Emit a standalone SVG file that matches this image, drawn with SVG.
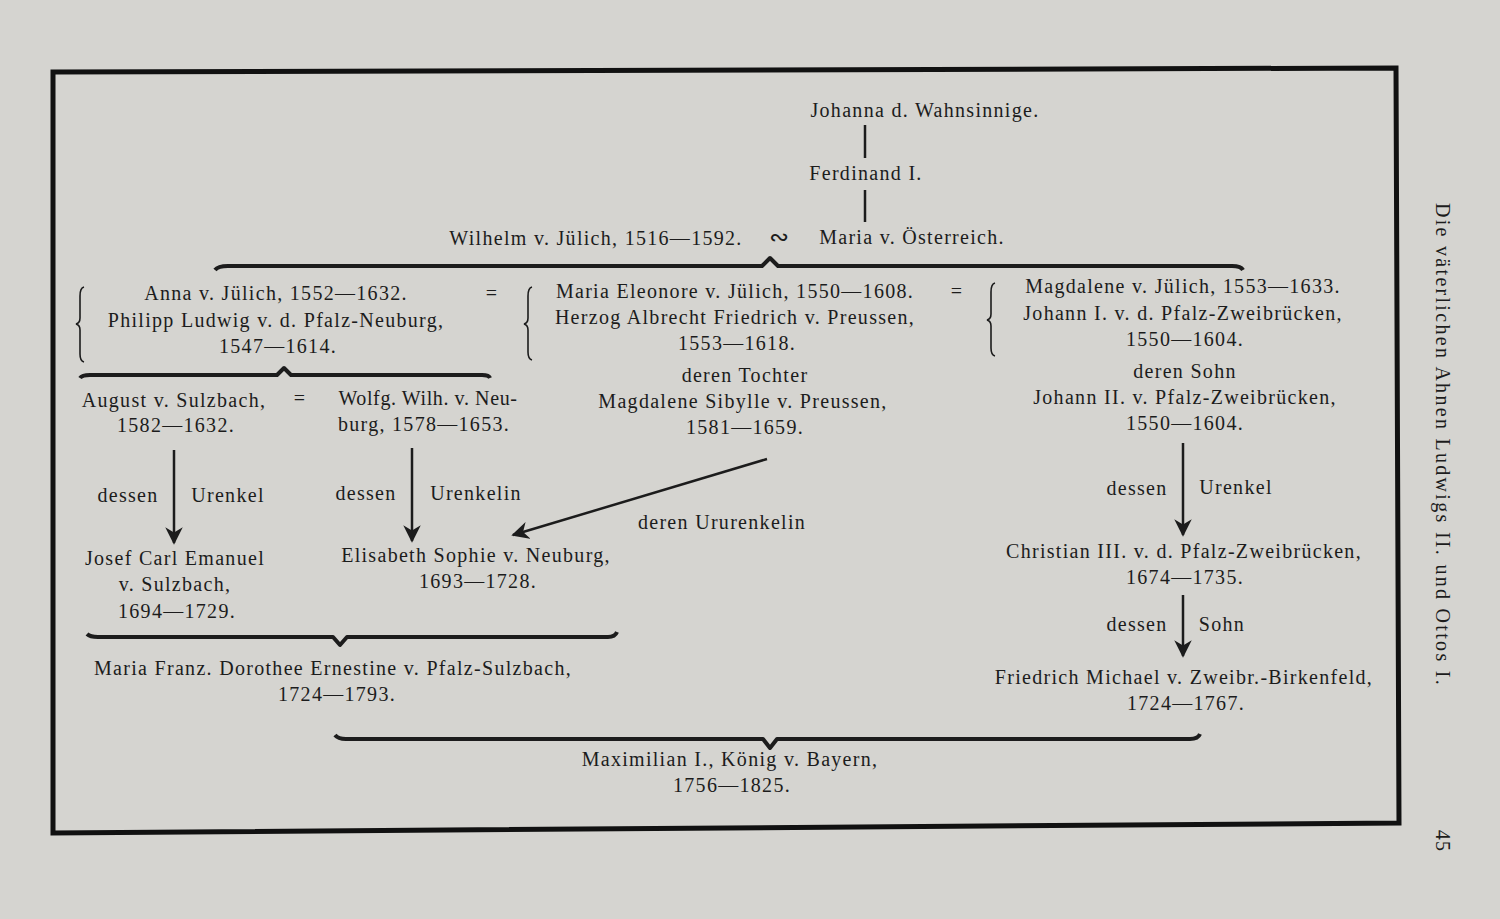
<svg xmlns="http://www.w3.org/2000/svg" width="1500" height="919" viewBox="0 0 1500 919">
<defs>
<style>
text{font-family:"Liberation Serif","DejaVu Serif",serif;font-size:20px;fill:#1c1c1c;text-anchor:middle;letter-spacing:1.3px}
.l{stroke:#1c1c1c;stroke-width:2.5;fill:none}
.b{stroke:#1c1c1c;stroke-width:4;fill:none;stroke-linejoin:round}
.k{stroke:#1c1c1c;stroke-width:1.6;fill:none}
</style>
<marker id="a" viewBox="0 0 10 10" refX="9" refY="5" markerWidth="7" markerHeight="7" orient="auto-start-reverse"><path d="M0,0 L10,5 L0,10 L3,5 z" fill="#1c1c1c"/></marker>
</defs>
<rect width="1500" height="919" fill="#d5d4d0"/>
<polygon points="53,72 1396,68 1399,823 53,833" fill="none" stroke="#111" stroke-width="5"/>
<g id="connectors">
<line class="l" x1="865" y1="125" x2="865" y2="158"/>
<line class="l" x1="865" y1="190" x2="865" y2="222"/>
<path class="b" d="M215,270 Q218,266 228,266 L762,266 L770,258 L778,266 L1232,266 Q1241,266 1243,270"/>
<path class="k" d="M84,287 Q80,288 80,296 L80,318 Q80,323 76,324 Q80,325 80,330 L80,354 Q80,361 84,362"/>
<path class="k" d="M532,287 Q528,288 528,296 L528,318 Q528,323 524,324 Q528,325 528,330 L528,352 Q528,359 532,360"/>
<path class="k" d="M995,283 Q991,284 991,292 L991,314 Q991,319 987,320 Q991,321 991,326 L991,348 Q991,355 995,356"/>
<path class="b" d="M80,378 Q82,375 90,375 L277,375 L284,368 L291,375 L482,375 Q489,375 490,378"/>
<line class="l" x1="174" y1="450" x2="174" y2="543" marker-end="url(#a)"/>
<line class="l" x1="412" y1="448" x2="412" y2="541" marker-end="url(#a)"/>
<line class="l" x1="767" y1="459" x2="513" y2="535" marker-end="url(#a)"/>
<line class="l" x1="1183" y1="443" x2="1183" y2="535" marker-end="url(#a)"/>
<line class="l" x1="1183" y1="595" x2="1183" y2="656" marker-end="url(#a)"/>
<path class="b" d="M87,634 Q90,637 98,637 L333,637 L340,645 L347,637 L608,637 Q615,637 617,632"/>
<path class="b" d="M335,735 Q338,739 346,739 L763,739 L770,748 L777,739 L1190,739 Q1198,739 1200,734"/>
</g>
<g id="n1"><text x="925" y="117">Johanna d. Wahnsinnige.</text></g>
<g id="n2"><text x="866" y="180">Ferdinand I.</text></g>
<g id="n3"><text x="596" y="245">Wilhelm v. Jülich, 1516—1592.</text><text x="780" y="245" style="font-size:24px">∾</text><text x="912" y="244">Maria v. Österreich.</text></g>
<g id="n4"><text x="276" y="300">Anna v. Jülich, 1552—1632.</text><text x="492" y="300">=</text><text x="276" y="327">Philipp Ludwig v. d. Pfalz-Neuburg,</text><text x="278" y="353">1547—1614.</text></g>
<g id="n5"><text x="735" y="298">Maria Eleonore v. Jülich, 1550—1608.</text><text x="957" y="298">=</text><text x="735" y="324">Herzog Albrecht Friedrich v. Preussen,</text><text x="737" y="350">1553—1618.</text></g>
<g id="n6"><text x="1183" y="293">Magdalene v. Jülich, 1553—1633.</text><text x="1183" y="320">Johann I. v. d. Pfalz-Zweibrücken,</text><text x="1185" y="346">1550—1604.</text></g>
<g id="n7"><text x="174" y="407">August v. Sulzbach,</text><text x="176" y="432">1582—1632.</text><text x="300" y="405">=</text><text x="428" y="405" style="letter-spacing:0.6px">Wolfg. Wilh. v. Neu-</text><text x="424" y="431">burg, 1578—1653.</text></g>
<g id="n8"><text x="745" y="382">deren Tochter</text><text x="743" y="408">Magdalene Sibylle v. Preussen,</text><text x="745" y="434">1581—1659.</text></g>
<g id="n9"><text x="1185" y="378">deren Sohn</text><text x="1185" y="404">Johann II. v. Pfalz-Zweibrücken,</text><text x="1185" y="430">1550—1604.</text></g>
<g id="labels"><text x="128" y="502">dessen</text><text x="228" y="502">Urenkel</text><text x="366" y="500">dessen</text><text x="476" y="500">Urenkelin</text><text x="722" y="529">deren Ururenkelin</text><text x="1137" y="495">dessen</text><text x="1236" y="494">Urenkel</text><text x="1137" y="631">dessen</text><text x="1222" y="631">Sohn</text></g>
<g id="n10"><text x="175" y="565">Josef Carl Emanuel</text><text x="175" y="591">v. Sulzbach,</text><text x="177" y="618">1694—1729.</text></g>
<g id="n11"><text x="476" y="562">Elisabeth Sophie v. Neuburg,</text><text x="478" y="588">1693—1728.</text></g>
<g id="n12"><text x="1184" y="558">Christian III. v. d. Pfalz-Zweibrücken,</text><text x="1185" y="584">1674—1735.</text></g>
<g id="n13"><text x="1184" y="684">Friedrich Michael v. Zweibr.-Birkenfeld,</text><text x="1186" y="710">1724—1767.</text></g>
<g id="n14"><text x="333" y="675">Maria Franz. Dorothee Ernestine v. Pfalz-Sulzbach,</text><text x="337" y="701">1724—1793.</text></g>
<g id="n15"><text x="730" y="766">Maximilian I., König v. Bayern,</text><text x="732" y="792">1756—1825.</text></g>
<text transform="translate(1436,445) rotate(90)" style="letter-spacing:2.3px">Die väterlichen Ahnen Ludwigs II. und Ottos I.</text>
<text transform="translate(1436,841) rotate(90)">45</text>
</svg>
